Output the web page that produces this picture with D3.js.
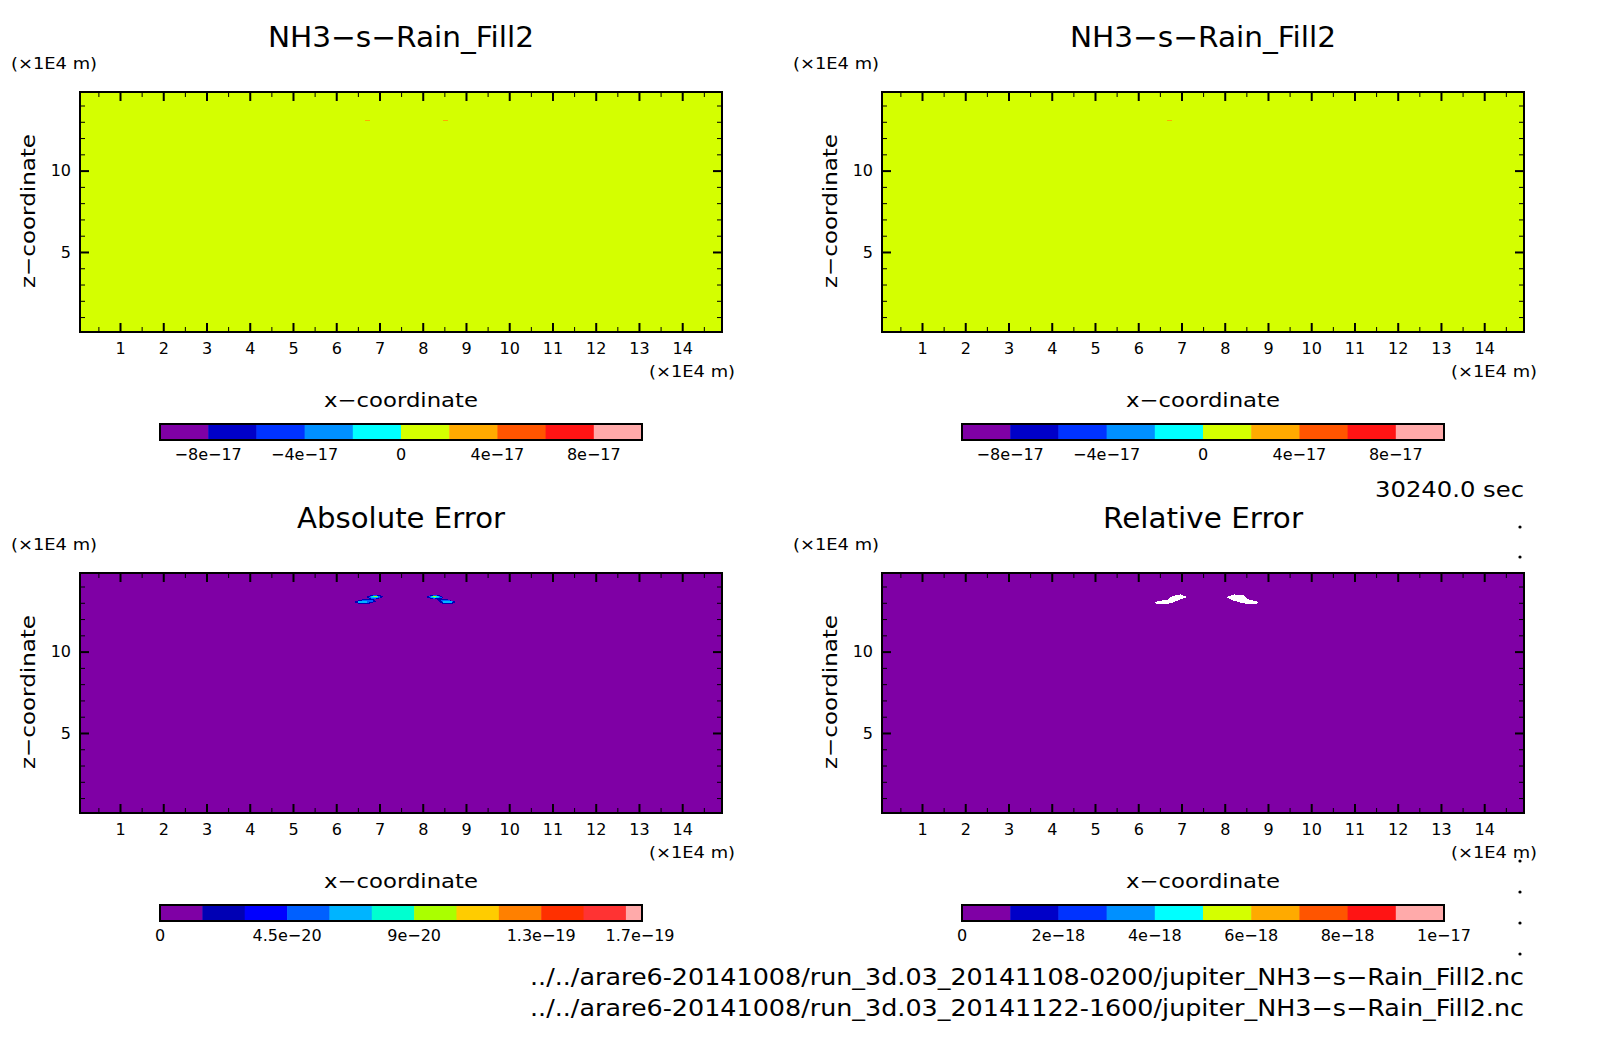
<!DOCTYPE html>
<html>
<head>
<meta charset="utf-8">
<script src="https://cdn.jsdelivr.net/npm/d3@7"></script>
<style>
  html, body { margin: 0; background: #fff; }
  svg { display: block; }
  text { font-family: "DejaVu Sans", sans-serif; fill: #000; }
</style>
</head>
<body>
<svg id="chart" width="1604" height="1054"></svg>
<script>
//--------------------------------- data ---------------------------------
let xMajor = [1, 2, 3, 4, 5, 6, 7, 8, 9, 10, 11, 12, 13, 14];
let xMinor = [0.5, 1.5, 2.5, 3.5, 4.5, 5.5, 6.5, 7.5, 8.5, 9.5, 10.5, 11.5, 12.5, 13.5, 14.5];
let zMajor = [5, 10];
let zMinor = [1, 2, 3, 4, 6, 7, 8, 9, 11, 12, 13, 14];
let xDomain = [0.075, 14.92];
let zDomain = [0.083, 14.83];

let fieldLevels = [-1e-16, -8e-17, -6e-17, -4e-17, -2e-17, 0, 2e-17, 4e-17, 6e-17, 8e-17, 1e-16];
let fieldColors = ["#7f00a5", "#0000c8", "#0033ff", "#0090ff", "#00ffff", "#d4ff00", "#ffaa00", "#ff5500", "#ff1414", "#ffaaaa"];
let fieldTicks = [-8e-17, -4e-17, 0, 4e-17, 8e-17];
let fieldTickLabels = ["−8e−17", "−4e−17", "0", "4e−17", "8e−17"];

let absLevels = [0, 1.5e-20, 3e-20, 4.5e-20, 6e-20, 7.5e-20, 9e-20, 1.05e-19, 1.2e-19, 1.35e-19, 1.5e-19, 1.65e-19, 1.707e-19];
let absColors = ["#7f00a5", "#0000b4", "#0000ff", "#0060ff", "#00b4ff", "#00ffd0", "#aaff00", "#ffcc00", "#ff8000", "#ff3000", "#ff3333", "#ffaaaa"];
let absTicks = [0, 4.5e-20, 9e-20, 1.35e-19, 1.7e-19];
let absTickLabels = ["0", "4.5e−20", "9e−20", "1.3e−19", "1.7e−19"];

let relLevels = [0, 1e-18, 2e-18, 3e-18, 4e-18, 5e-18, 6e-18, 7e-18, 8e-18, 9e-18, 1e-17];
let relTicks = [0, 2e-18, 4e-18, 6e-18, 8e-18, 1e-17];
let relTickLabels = ["0", "2e−18", "4e−18", "6e−18", "8e−18", "1e−17"];

// small patches: [value, outline in (x, z)]
let fieldPatchesA = [
  [3e-17, [[6.66, 13.10], [6.78, 13.10], [6.78, 13.02], [6.66, 13.02]]],
  [3e-17, [[8.47, 13.10], [8.59, 13.10], [8.59, 13.02], [8.47, 13.02]]]
];
let fieldPatchesB = [
  [3e-17, [[6.66, 13.10], [6.78, 13.10], [6.78, 13.02], [6.66, 13.02]]]
];
let absPatches = [
  [2e-20, [[6.68, 13.36], [6.84, 13.50], [7.00, 13.48], [7.10, 13.36], [6.95, 13.22], [6.80, 13.20]]],
  [2e-20, [[6.40, 13.05], [6.58, 13.20], [6.85, 13.26], [6.93, 13.08], [6.75, 12.94], [6.50, 12.95]]],
  [2e-20, [[8.07, 13.36], [8.22, 13.50], [8.38, 13.48], [8.50, 13.28], [8.30, 13.20], [8.18, 13.26]]],
  [2e-20, [[8.32, 13.22], [8.50, 13.26], [8.78, 13.05], [8.70, 12.94], [8.44, 12.95]]],
  [5e-20, [[6.74, 13.36], [6.86, 13.46], [6.99, 13.44], [7.04, 13.34], [6.90, 13.25], [6.80, 13.26]]],
  [5e-20, [[6.46, 13.05], [6.63, 13.16], [6.84, 13.18], [6.84, 13.03], [6.55, 12.98]]],
  [5e-20, [[8.12, 13.36], [8.26, 13.46], [8.38, 13.44], [8.44, 13.32], [8.26, 13.25]]],
  [5e-20, [[8.42, 13.16], [8.58, 13.18], [8.72, 13.05], [8.48, 12.98]]],
  [7e-20, [[6.78, 13.36], [6.88, 13.44], [6.97, 13.40], [6.96, 13.28], [6.84, 13.27]]],
  [7e-20, [[6.50, 13.08], [6.72, 13.12], [6.72, 13.00], [6.52, 12.99]]],
  [7e-20, [[8.16, 13.36], [8.26, 13.44], [8.37, 13.40], [8.39, 13.28], [8.22, 13.27]]],
  [7e-20, [[8.46, 13.10], [8.69, 13.10], [8.67, 13.00], [8.48, 12.99]]],
  [8e-20, [[6.82, 13.38], [6.90, 13.42], [6.98, 13.38], [6.90, 13.32]]],
  [8e-20, [[8.20, 13.38], [8.28, 13.42], [8.36, 13.38], [8.28, 13.31]]],
  [1e-19, [[6.84, 13.37], [6.90, 13.41], [6.96, 13.37], [6.90, 13.33]]],
  [1e-19, [[8.22, 13.37], [8.28, 13.41], [8.34, 13.37], [8.28, 13.33]]],
  [1.25e-19, [[6.87, 13.37], [6.93, 13.37], [6.93, 13.33], [6.87, 13.33]]],
  [1.25e-19, [[8.25, 13.37], [8.31, 13.37], [8.31, 13.33], [8.25, 13.33]]]
];
// undefined cells of the relative error are left white
let relHoles = [
  [[6.375, 13.05], [6.68, 13.20], [6.79, 13.42], [6.98, 13.51], [7.14, 13.35], [6.91, 13.14], [6.75, 12.96], [6.42, 12.92]],
  [[8.04, 13.35], [8.22, 13.51], [8.44, 13.45], [8.53, 13.23], [8.78, 13.05], [8.74, 12.92], [8.44, 12.96], [8.20, 13.14]]
];
let sideDots = [[1520, 527], [1520, 557], [1520, 861], [1520, 892], [1520, 923], [1520, 954]];

let svg = d3.select("#chart");

//--------------------------------- one panel ---------------------------------
function drawPanel(cfg) {
  let x = d3.scaleLinear().domain(xDomain).range([80, 722]);
  let z = d3.scaleLinear().domain(zDomain).range([240, 0]);
  let colorOf = d3.scaleThreshold().domain(cfg.levels.slice(1, -1)).range(cfg.colors);
  let line = d3.line().x(d => x(d[0])).y(d => z(d[1])).curve(d3.curveLinearClosed);

  let g = svg.append("g").attr("transform", `translate(${cfg.dx},${cfg.dy})`);

  // texts around the plot
  g.append("text").attr("x", 401).attr("y", -45).attr("text-anchor", "middle")
    .attr("font-size", 28).attr("textLength", cfg.titleWidth).attr("lengthAdjust", "spacingAndGlyphs").text(cfg.title);
  g.append("text").attr("x", cfg.unitX).attr("y", -23).attr("font-size", 15.5)
    .attr("textLength", 86).attr("lengthAdjust", "spacingAndGlyphs").text("(×1E4 m)");
  g.append("text").attr("x", 649).attr("y", 285).attr("font-size", 15.5)
    .attr("textLength", 86).attr("lengthAdjust", "spacingAndGlyphs").text("(×1E4 m)");
  g.append("text").attr("x", 401).attr("y", 315).attr("text-anchor", "middle")
    .attr("font-size", 20).attr("textLength", 154).attr("lengthAdjust", "spacingAndGlyphs").text("x−coordinate");
  g.append("text").attr("transform", "translate(35,119) rotate(-90)").attr("text-anchor", "middle")
    .attr("font-size", 20).attr("textLength", 154).attr("lengthAdjust", "spacingAndGlyphs").text("z−coordinate");

  // field
  g.append("rect").attr("x", x(xDomain[0])).attr("y", z(zDomain[1]))
    .attr("width", x(xDomain[1]) - x(xDomain[0])).attr("height", z(zDomain[0]) - z(zDomain[1]))
    .attr("fill", colorOf(cfg.base));
  g.selectAll("path.patch").data(cfg.patches).join("path").attr("class", "patch")
    .attr("d", d => line(d[1])).attr("fill", d => colorOf(d[0])).attr("shape-rendering", "crispEdges");
  g.selectAll("path.hole").data(cfg.holes).join("path").attr("class", "hole")
    .attr("d", d => line(d)).attr("fill", "#fff").attr("shape-rendering", "crispEdges");

  // ticks point inward on all four sides
  let axes = [
    [d3.axisBottom(x), 240, xMajor, xMinor, 11, -9, -5, true],
    [d3.axisTop(x), 0, xMajor, xMinor, 0, -9, -5, true],
    [d3.axisLeft(z), 80, zMajor, zMinor, 9, -9, -5, false],
    [d3.axisRight(z), 722, zMajor, zMinor, 0, -9, -5, false]
  ];
  axes.forEach(a => {
    let place = a[7] ? `translate(0,${a[1]})` : `translate(${a[1]},0)`;
    let minor = g.append("g").attr("transform", place)
      .call(a[0].tickValues(a[3]).tickSizeOuter(0).tickSizeInner(a[6]).tickFormat(""));
    minor.selectAll("line").attr("stroke", "#000").attr("stroke-width", 1);
    minor.select(".domain").remove();
    let major = g.append("g").attr("transform", place)
      .call(a[0].tickValues(a[2]).tickSizeInner(a[5]).tickPadding(a[4])
        .tickFormat(a[4] ? d3.format("d") : ""));
    major.selectAll("line").attr("stroke", "#000").attr("stroke-width", 2);
    major.select(".domain").remove();
    major.selectAll("text").attr("font-size", 16).attr("font-family", "DejaVu Sans");
  });
  g.append("rect").attr("x", x(xDomain[0])).attr("y", z(zDomain[1]))
    .attr("width", x(xDomain[1]) - x(xDomain[0])).attr("height", z(zDomain[0]) - z(zDomain[1]))
    .attr("fill", "none").attr("stroke", "#000").attr("stroke-width", 2);

  // colour bar
  let c = d3.scaleLinear().domain([cfg.levels[0], cfg.levels[cfg.levels.length - 1]]).range([160, 642]);
  let bar = g.append("g").attr("transform", "translate(0,332)");
  bar.selectAll("rect").data(d3.pairs(cfg.levels)).join("rect")
    .attr("x", d => c(d[0])).attr("width", d => c(d[1]) - c(d[0]) + 0.5).attr("height", 16)
    .attr("fill", (d, i) => cfg.colors[i]);
  bar.append("rect").attr("x", 160).attr("width", 482).attr("height", 16)
    .attr("fill", "none").attr("stroke", "#000").attr("stroke-width", 2);
  bar.selectAll("text").data(cfg.ticks).join("text")
    .attr("x", d => c(d)).attr("y", 36).attr("text-anchor", "middle").attr("font-size", 16)
    .text((d, i) => cfg.tickLabels[i]);
}

drawPanel({ dx: 0, dy: 92, title: "NH3−s−Rain_Fill2", titleWidth: 266, unitX: 11, levels: fieldLevels, colors: fieldColors, base: 0,
  patches: fieldPatchesA, holes: [], ticks: fieldTicks, tickLabels: fieldTickLabels });
drawPanel({ dx: 802, dy: 92, title: "NH3−s−Rain_Fill2", titleWidth: 266, unitX: -9, levels: fieldLevels, colors: fieldColors, base: 0,
  patches: fieldPatchesB, holes: [], ticks: fieldTicks, tickLabels: fieldTickLabels });
drawPanel({ dx: 0, dy: 573, title: "Absolute Error", titleWidth: 208, unitX: 11, levels: absLevels, colors: absColors, base: 0,
  patches: absPatches, holes: [], ticks: absTicks, tickLabels: absTickLabels });
drawPanel({ dx: 802, dy: 573, title: "Relative Error", titleWidth: 200, unitX: -9, levels: relLevels, colors: fieldColors, base: 0,
  patches: [], holes: relHoles, ticks: relTicks, tickLabels: relTickLabels });

//--------------------------------- page notes ---------------------------------
svg.append("text").attr("x", 1524).attr("y", 497).attr("text-anchor", "end").attr("font-size", 22)
  .attr("textLength", 149).attr("lengthAdjust", "spacingAndGlyphs").text("30240.0 sec");
svg.append("text").attr("x", 1524).attr("y", 985).attr("text-anchor", "end").attr("font-size", 23)
  .attr("textLength", 994).attr("lengthAdjust", "spacingAndGlyphs")
  .text("../../arare6-20141008/run_3d.03_20141108-0200/jupiter_NH3−s−Rain_Fill2.nc");
svg.append("text").attr("x", 1524).attr("y", 1016).attr("text-anchor", "end").attr("font-size", 23)
  .attr("textLength", 994).attr("lengthAdjust", "spacingAndGlyphs")
  .text("../../arare6-20141008/run_3d.03_20141122-1600/jupiter_NH3−s−Rain_Fill2.nc");
svg.selectAll("circle.dot").data(sideDots).join("circle").attr("class", "dot")
  .attr("cx", d => d[0]).attr("cy", d => d[1]).attr("r", 1.6).attr("fill", "#000");
</script>
</body>
</html>
